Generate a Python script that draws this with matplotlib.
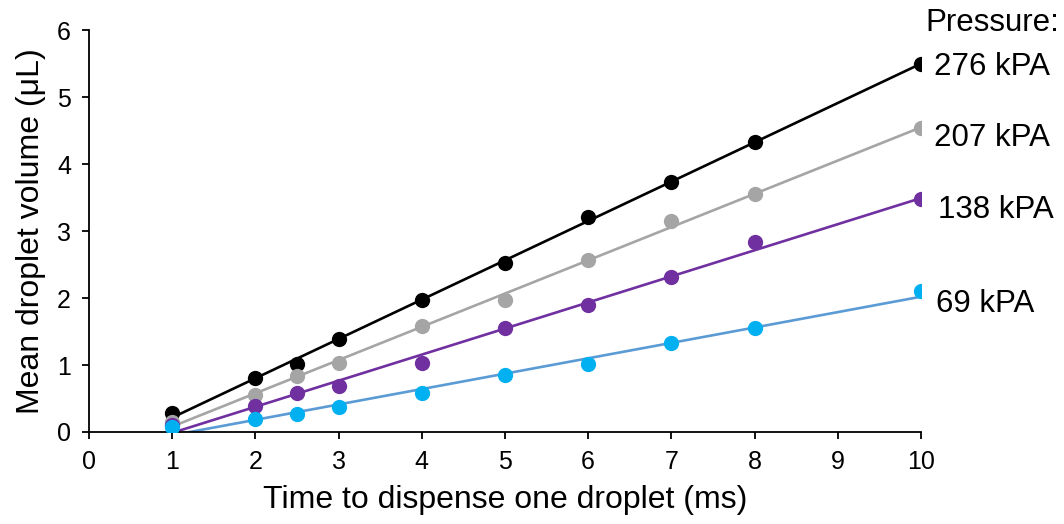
import matplotlib
matplotlib.use("Agg")
import matplotlib.pyplot as plt
import numpy as np

plt.rcParams['font.family'] = ['Liberation Sans', 'DejaVu Sans']

# Dispense time (ms)
times = [1, 2, 2.5, 3, 4, 5, 6, 7, 8, 10]

# Mean droplet volume (uL) per pressure
vol_276 = [0.28, 0.81, 1.01, 1.39, 1.97, 2.52, 3.21, 3.73, 4.33, 5.50]
vol_207 = [0.15, 0.55, 0.83, 1.03, 1.58, 1.97, 2.57, 3.15, 3.55, 4.54]
vol_138 = [0.10, 0.39, 0.58, 0.69, 1.03, 1.55, 1.89, 2.32, 2.83, 3.48]
vol_69 = [0.07, 0.20, 0.27, 0.38, 0.58, 0.85, 1.02, 1.33, 1.55, 2.11]

labels = ['276 kPA', '207 kPA', '138 kPA', '69 kPA']

series = [
    # (values, marker colour, line colour, label offset in px)
    (vol_276, '#000000', '#000000', (13, -3)),
    (vol_207, '#A5A5A5', '#A5A5A5', (13, -10)),
    (vol_138, '#7030A0', '#7030A0', (17, -11)),
    (vol_69, '#00B0F0', '#5B9BD5', (15, -13)),
]

fig = plt.figure(figsize=(10.64, 5.24), dpi=100)
ax = fig.add_axes([0.0836, 0.1756, 0.782, 0.767])

x = np.array(times)
for (vals, mcol, lcol, off), lab in zip(series, labels):
    y = np.array(vals)
    # linear trendline
    k, b = np.polyfit(x, y, 1)
    xl = np.array([x.min(), x.max()])
    ax.plot(xl, k * xl + b, color=lcol, lw=1.9, zorder=2)
    ax.plot(x, y, 'o', color=mcol, ms=11, mec='none', zorder=3)
    ax.annotate(lab, xy=(x[-1], y[-1]), xytext=off, textcoords='offset pixels',
                ha='left', va='center', fontsize=22.5, annotation_clip=False)

fig.text(0.996, 0.956, 'Pressure:', ha='right', va='center', fontsize=22.5)

ax.set_xlim(0, 10)
ax.set_ylim(0, 6)
ax.set_xticks(range(0, 11))
ax.set_yticks(range(0, 7))
ax.spines['top'].set_visible(False)
ax.spines['right'].set_visible(False)
for s in ('left', 'bottom'):
    ax.spines[s].set_linewidth(1.3)
ax.tick_params(axis='both', direction='out', length=5, width=1.3,
               labelsize=18, pad=8)
ax.set_xlabel('Time to dispense one droplet (ms)', fontsize=23, labelpad=8)
ax.set_ylabel('Mean droplet volume (μL)', fontsize=23, labelpad=8)

fig.savefig('out.png', dpi=100)
